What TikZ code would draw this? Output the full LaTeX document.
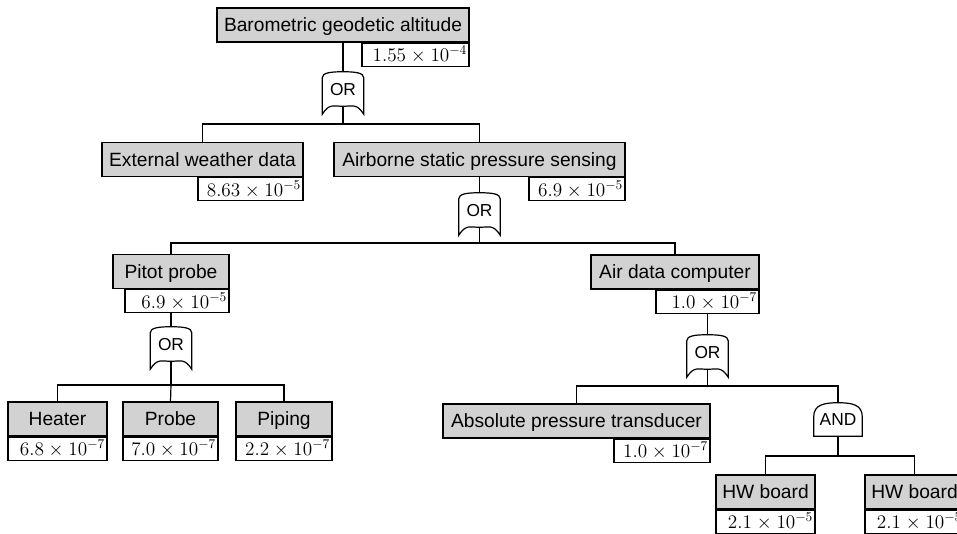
\documentclass[tikz,border=0pt]{standalone}
\usepackage{fontspec}
\setmainfont{Liberation Sans}
\usepackage{tikz}
\usetikzlibrary{positioning, calc}

\definecolor{boxgray}{RGB}{210,210,210}

\tikzset{
  event/.style={draw, fill=boxgray, line width=0.9pt, minimum height=25.5pt, inner xsep=4pt, text height=10.3pt, text depth=0pt, font=\fontsize{14.4}{17}\selectfont},
  prob/.style={draw, fill=white, line width=0.9pt, anchor=north east, minimum height=17.25pt, inner xsep=1.5pt, inner ysep=0pt, align=right, font=\fontsize{14.4}{17}\selectfont},
  gatebox/.style={inner sep=0pt, minimum width=30.75pt, minimum height=25.5pt, text depth=-1.5pt, font=\fontsize{13}{15}\selectfont},
  andbox/.style={inner sep=0pt, minimum width=36pt, minimum height=24.75pt, font=\fontsize{13}{15}\selectfont},
  link/.style={line width=0.9pt},
}

% gate outlines, drawn round a named node
\newcommand{\orshape}[1]{%
  \draw[link] ($(#1.north west)+(0,6)$) .. controls ($(#1.north west)+(0,1)$) and ($(#1.north)+(-12,0)$) .. (#1.north)
    .. controls ($(#1.north)+(12,0)$) and ($(#1.north east)+(0,1)$) .. ($(#1.north east)+(0,6)$)
    -- ($(#1.south east)+(0,8)$)
    .. controls ($(#1.south east)+(-7,-3)$) and ($(#1.south)+(10,0)$) .. (#1.south)
    .. controls ($(#1.south)+(-10,0)$) and ($(#1.south west)+(7,-3)$) .. ($(#1.south west)+(0,8)$)
    -- cycle;}
\newcommand{\andshape}[1]{%
  \draw[link] (#1.south west) -- ($(#1.north west)+(0,14)$)
    .. controls ($(#1.north west)+(0,2)$) and ($(#1.north)+(-14,0)$) .. (#1.north)
    .. controls ($(#1.north)+(14,0)$) and ($(#1.north east)+(0,2)$) .. ($(#1.north east)+(0,14)$)
    -- (#1.south east) -- cycle;}

\begin{document}
\begin{tikzpicture}[x=0.75pt, y=-0.75pt]
  \useasboundingbox (0,0) rectangle (957,534);
  \clip (0,0) rectangle (957,534);

  % --- top event ---
  \node[event, minimum width=189pt] (baro) at (343,25) {Barometric geodetic altitude};
  \node[prob, text width=77.25pt] (barop) at (baro.south east) {$1.55\times10^{-4}$};
  \node[gatebox] (g1) at (343,89) {OR};
  \orshape{g1}

  % --- second level ---
  \node[event, minimum width=150.75pt] (ext) at (202.5,159.5) {External weather data};
  \node[prob, text width=75.75pt] (extp) at (ext.south east) {$8.63\times10^{-5}$};
  \node[event, minimum width=218.25pt] (air) at (479.5,159.5) {Airborne static pressure sensing};
  \node[prob, text width=69pt] (airp) at (air.south east) {$6.9\times10^{-5}$};
  \node[gatebox] (g2) at (479.5,210) {OR};
  \orshape{g2}

  % --- third level ---
  \node[event, minimum width=87pt] (pitot) at (171,271.5) {Pitot probe};
  \node[prob, text width=75pt] (pitotp) at (pitot.south east) {$6.9\times10^{-5}$};
  \node[gatebox] (g3) at (171,344) {OR};
  \orshape{g3}
  \node[event, minimum width=126pt] (adc) at (675,272) {Air data computer};
  \node[prob, text width=74.25pt] (adcp) at (adc.south east) {$1.0\times10^{-7}$};
  \node[gatebox] (g4) at (707.5,352) {OR};
  \orshape{g4}

  % --- basic events under pitot probe ---
  \node[event, minimum width=74.25pt] (heater) at (57.5,419) {Heater};
  \node[prob, text width=71.25pt] (heaterp) at (heater.south east) {$6.8\times10^{-7}$};
  \node[event, minimum width=71.25pt] (probe) at (170.5,419) {Probe};
  \node[prob, text width=68.25pt] (probep) at (probe.south east) {$7.0\times10^{-7}$};
  \node[event, minimum width=72pt] (piping) at (284,419) {Piping};
  \node[prob, text width=69pt] (pipingp) at (piping.south east) {$2.2\times10^{-7}$};

  % --- under air data computer ---
  \node[event, minimum width=200.25pt] (apt) at (576.5,421) {Absolute pressure transducer};
  \node[prob, text width=69pt] (aptp) at (apt.south east) {$1.0\times10^{-7}$};
  \node[andbox] (g5) at (838,419.5) {AND};
  \andshape{g5}
  \node[event, minimum width=74.25pt] (hw1) at (765.5,492) {HW board};
  \node[prob, text width=71.25pt] (hw1p) at (hw1.south east) {$2.1\times10^{-5}$};
  \node[event, minimum width=74.25pt] (hw2) at (914.5,492) {HW board};
  \node[prob, text width=71.25pt] (hw2p) at (hw2.south east) {$2.1\times10^{-5}$};

  % --- connectors ---
  \coordinate (j1) at (343,124);
  \coordinate (j2) at (479.5,243);
  \coordinate (j3) at (171,385);
  \coordinate (j4) at (707.5,386);
  \coordinate (j5) at (838,456);

  \draw[link] (baro.south) -- (g1.north);
  \draw[link] (g1.south) -- (j1);
  \draw[link] (ext.north) |- (j1) -| (air.north);

  \draw[link] (air.south) -- (g2.north);
  \draw[link] (g2.south) -- (j2);
  \draw[link] (pitot.north) |- (j2) -| (adc.north);

  \draw[link] (g3.north |- pitotp.south) -- (g3.north);
  \draw[link] (g3.south) -- (j3);
  \draw[link] (heater.north) |- (j3) -| (piping.north);
  \draw[link] (j3) -- (probe.north);

  \draw[link] (adcp.south) -- (g4.north);
  \draw[link] (g4.south) -- (j4);
  \draw[link] (apt.north) |- (j4) -| (g5.north);

  \draw[link] (g5.south) -- (j5);
  \draw[link] (hw1.north) |- (j5) -| (hw2.north);
\end{tikzpicture}
\end{document}
